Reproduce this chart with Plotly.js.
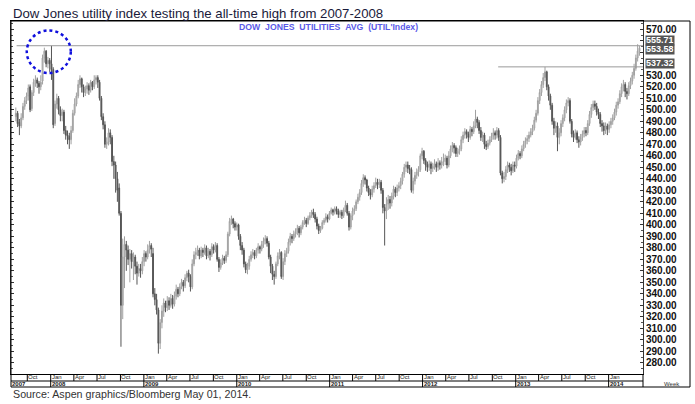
<!DOCTYPE html>
<html><head><meta charset="utf-8">
<script src="https://cdn.plot.ly/plotly-3.0.1.min.js"></script>
<style>html,body{margin:0;padding:0;background:#fff;}#chart{width:695px;height:404px;}</style>
</head><body><div id="chart"></div>
<script>
// Weekly bars, first week ending 2007-08-17
const firstWeek = [2007, 7, 17];
const opens = [
494,497,489,486,493,503,508,512,520,501,
515,524,526,523,520,525,545,551,540,543,
540,535,488,505,510,500,495,498,482,478,
477,474,482,497,505,512,522,527,520,515,
518,521,517,524,520,526,528,524,510,494,
487,470,472,480,476,455,452,440,432,410,
330,372,383,378,370,375,368,372,364,358,
362,360,368,375,372,378,382,375,340,335,
326,297,315,325,332,328,334,330,336,331,
338,344,340,346,350,347,354,358,355,346,
366,374,376,378,373,378,376,380,373,377,
374,381,378,382,370,363,367,371,369,374,
392,403,405,401,398,400,390,382,378,366,
361,364,370,374,376,373,378,381,379,383,
386,388,384,372,364,357,355,366,373,376,
355,368,375,377,385,390,388,392,394,397,
393,398,402,404,401,406,408,411,409,405,
399,395,397,402,404,407,405,410,413,411,
414,412,409,411,408,413,417,410,398,408,
412,414,420,424,428,436,441,439,432,428,
426,431,434,437,435,437,430,415,412,418,
422,419,425,431,428,432,434,438,444,450,
452,449,448,430,438,443,446,448,460,464,
456,452,450,453,449,451,453,450,454,452,
455,455,458,452,460,466,469,467,462,464,
466,474,478,481,479,476,483,481,486,492,
489,482,476,478,470,468,471,474,477,480,
478,482,476,445,440,442,448,452,450,447,
452,451,458,462,460,466,470,473,475,478,
481,484,491,497,508,515,522,528,533,520,
512,504,490,484,486,476,480,488,493,500,
506,508,490,479,476,480,474,472,476,479,
482,480,488,496,502,505,503,498,496,488,
486,482,486,483,487,490,493,498,504,507,
514,520,522,516,514,521,525,530,536,545,
551];
const highs = [
502,499,492,497,506,511,515,522,522,517,
527,530,528,525,530,548,554,552,546,545,
555.71,537,508,514,512,503,501,500,486,482,
480,486,500,510,515,526,530,528,522,521,
524,523,526,525,530,530,530,526,512,497,
490,476,484,483,478,460,455,446,436,412,
388,390,386,382,379,378,376,374,368,366,
366,372,378,377,383,386,384,380,345,340,
328,318,330,336,334,338,337,340,339,342,
348,346,349,353,352,357,360,361,357,370,
377,380,382,380,381,380,383,382,380,379,
384,383,385,384,372,370,374,373,377,394,
406,408,406,403,402,401,392,385,380,368,
367,373,377,379,378,380,384,382,386,389,
391,390,386,374,366,360,368,376,379,377,
371,378,380,388,393,392,395,397,400,399,
400,404,407,406,408,411,413,414,411,407,
401,399,404,406,410,409,412,415,414,416,
416,414,413,413,415,421,419,412,410,415,
417,422,427,431,439,444,443,440,434,431,
434,437,441,440,440,439,432,418,424,426,
425,428,434,433,435,437,441,446,453,455,
455,452,450,441,446,449,451,462,467,465,
458,455,456,455,454,457,455,458,456,459,
462,461,460,464,469,472,471,469,467,469,
477,481,484,483,481,486,485,490,500,494,
491,485,481,480,473,474,477,480,484,482,
485,484,478,447,446,451,455,454,453,455,
455,461,465,464,469,473,476,478,481,484,
487,494,500,511,518,525,532,537.32,534,522,
514,506,493,490,489,484,491,496,503,509,
511,510,492,482,483,482,477,479,482,485,
485,491,499,505,508,508,506,501,498,491,
489,489,488,490,493,496,501,507,510,517,
523,526,524,519,524,528,533,540,548,557,
555.5];
const lows = [
490,485,478,484,491,500,505,508,498,499,
512,520,519,514,517,522,541,537,536,533,
526,484,486,501,496,490,490,479,474,470,
466,470,480,495,503,510,519,515,511,512,
514,513,515,517,518,522,519,508,491,483,
467,466,469,470,451,440,428,420,408,294,
318,345,360,365,350,362,352,357,348,355,
354,357,364,368,370,375,372,337,330,322,
288,292,310,320,324,325,326,328,327,329,
335,337,338,344,342,345,351,350,342,344,
364,370,373,370,371,372,374,370,371,369,
372,375,376,368,359,361,365,366,367,372,
390,400,397,395,395,387,378,374,363,358,
357,361,368,371,370,371,375,375,377,380,
383,381,370,358,352,348,353,364,370,353,
352,365,372,375,382,384,386,389,391,389,
391,396,400,398,400,404,406,406,402,396,
392,393,396,400,402,402,404,409,408,409,
409,406,406,405,406,411,408,395,396,404,
409,412,418,421,426,433,435,429,425,422,
424,428,432,431,432,427,410,382,405,413,
414,416,422,424,425,429,431,435,441,446,
445,444,428,427,435,440,442,446,457,453,
447,446,447,444,446,448,446,447,448,449,
451,452,449,450,458,463,462,459,459,461,
464,471,475,475,472,474,477,479,484,484,
479,473,472,466,465,466,469,472,474,474,
475,473,443,436,437,439,445,446,443,445,
446,449,456,457,458,464,467,470,472,476,
478,482,489,495,505,512,519,525,517,508,
500,487,478,480,464,470,477,485,490,497,
503,488,476,472,474,471,467,469,473,476,
477,478,486,493,499,500,495,492,485,481,
478,479,478,480,484,487,491,495,501,505,
511,516,511,509,512,518,522,527,534,542,
547];
const closes = [
497,488,486,493,503,508,512,519,500,515,
524,526,523,520,524,545,551,540,543,540,
535,487,505,510,500,495,498,482,478,477,
474,482,497,505,512,522,527,520,515,518,
521,517,524,520,526,528,524,510,494,487,
470,472,480,476,455,452,440,430,410,330,
372,383,378,370,375,368,372,364,358,362,
360,368,375,372,378,382,379,340,335,326,
297,315,325,332,328,334,330,336,331,338,
344,340,346,350,347,354,358,355,346,366,
374,376,378,373,378,376,380,373,377,374,
381,378,382,370,363,367,371,369,374,392,
403,405,401,398,400,390,382,378,366,361,
364,370,374,376,373,378,381,379,383,386,
388,384,372,364,357,355,366,373,376,355,
368,375,377,385,390,388,392,394,397,393,
398,402,404,401,406,408,411,409,405,399,
395,397,402,404,407,405,410,413,411,414,
412,409,411,408,413,417,410,398,408,412,
414,420,424,428,436,441,439,432,428,426,
431,434,437,435,437,430,415,412,418,422,
419,425,431,428,432,434,438,444,450,452,
449,448,430,438,443,446,448,460,464,456,
452,450,453,449,451,453,450,454,452,455,
455,458,452,460,466,469,467,462,464,466,
474,478,481,479,476,483,481,486,492,489,
482,476,478,470,468,471,474,477,480,478,
482,476,445,440,442,448,452,450,447,452,
451,458,462,460,466,470,473,475,478,481,
484,491,497,508,515,522,528,533,520,512,
504,490,484,486,476,480,488,493,500,506,
508,490,479,476,480,474,472,476,479,482,
480,488,496,502,505,503,498,496,488,486,
482,486,483,487,490,493,498,504,507,514,
520,522,516,514,521,525,530,536,545,551,
553.58];

const quarterDates = ['2007-10-01',
 '2008-01-01','2008-04-01','2008-07-01','2008-10-01',
 '2009-01-01','2009-04-01','2009-07-01','2009-10-01',
 '2010-01-01','2010-04-01','2010-07-01','2010-10-01',
 '2011-01-01','2011-04-01','2011-07-01','2011-10-01',
 '2012-01-01','2012-04-01','2012-07-01','2012-10-01',
 '2013-01-01','2013-04-01','2013-07-01','2013-10-01',
 '2014-01-01'];
const quarterLabels = ['Oct',
 'Jan','Apr','Jul','Oct','Jan','Apr','Jul','Oct','Jan','Apr','Jul','Oct',
 'Jan','Apr','Jul','Oct','Jan','Apr','Jul','Oct','Jan','Apr','Jul','Oct','Jan'];
const yearDates = ['2007-07-29','2008-01-01','2009-01-01','2010-01-01','2011-01-01','2012-01-01','2013-01-01','2014-01-01'];
const yearLabels = ['2007','2008','2009','2010','2011','2012','2013','2014'];
const xRange = ['2007-07-29','2014-05-16'];
const yRange = [270.3, 577.2];
const yTickVals = [280,290,300,310,320,330,340,350,360,370,380,390,400,410,420,430,440,450,460,470,480,490,500,510,520,530,540,550,560,570];
const yTickText = ['280.00','290.00','300.00','310.00','320.00','330.00','340.00','350.00','360.00','370.00','380.00','390.00','400.00','410.00','420.00','430.00','440.00','450.00','460.00','470.00','480.00','490.00','500.00','510.00','520.00','530.00','','','','570.00'];
const levelLabels = [555.71, 553.58, 537.32];
const levelShift = [5.5, -1.5, 3];

const dates = closes.map((_, i) => {
  const d = new Date(Date.UTC(firstWeek[0], firstWeek[1], firstWeek[2]));
  d.setUTCDate(d.getUTCDate() + 7 * i);
  return d.toISOString().slice(0, 10);
});

const trace = {
  type: 'candlestick', x: dates, open: opens, high: highs, low: lows, close: closes,
  increasing: {line: {color: '#a0a0a0', width: 1}, fillcolor: '#d6d6d6'},
  decreasing: {line: {color: '#555555', width: 1}, fillcolor: '#555555'},
  hoverinfo: 'skip', showlegend: false
};

const F = 'Liberation Sans, Arial, sans-serif';
const rowY1 = -7 / 353, rowY2 = -13 / 353, rightEdge = (690 - 11) / 632;

const shapes = [
  {type: 'rect', xref: 'paper', yref: 'paper', x0: 0, x1: rightEdge, y0: rowY2, y1: 1, line: {color: '#000', width: 1}},
  {type: 'line', xref: 'paper', yref: 'paper', x0: 0, x1: 1, y0: rowY1, y1: rowY1, line: {color: '#000', width: 1}},
  {type: 'line', xref: 'paper', yref: 'paper', x0: 1, x1: 1, y0: rowY2, y1: 0, line: {color: '#000', width: 1}},
  {type: 'line', xref: 'x', yref: 'y', x0: '2007-08-20', x1: xRange[1], y0: levelLabels[0], y1: levelLabels[0], line: {color: '#9a9a9a', width: 1}},
  {type: 'line', xref: 'x', yref: 'y', x0: '2012-10-24', x1: xRange[1], y0: levelLabels[2], y1: levelLabels[2], line: {color: '#9a9a9a', width: 1}},
  {type: 'circle', xref: 'x', yref: 'y', x0: '2007-09-29', x1: '2008-03-20', y0: 532, y1: 569, line: {color: '#1010dd', width: 2.5, dash: 'dot'}}
];
quarterDates.forEach(d => shapes.push({type: 'line', xref: 'x', yref: 'paper', x0: d, x1: d, y0: 0, y1: rowY1, line: {color: '#000', width: 1}}));
yearDates.slice(1).forEach(d => shapes.push({type: 'line', xref: 'x', yref: 'paper', x0: d, x1: d, y0: rowY1, y1: rowY2, line: {color: '#000', width: 1}}));

const annotations = [
  {xref: 'paper', yref: 'paper', x: 0, y: 1 + 8 / 353, xanchor: 'left', yanchor: 'middle', showarrow: false,
   text: 'Dow Jones utility index testing the all-time high from 2007-2008', font: {family: F, size: 13.2, color: '#1a1a3a'}},
  {xref: 'paper', yref: 'paper', x: 0.5016, y: 1 - 5.7 / 353, xanchor: 'center', yanchor: 'middle', showarrow: false,
   text: 'DOW\u00a0\u00a0JONES\u00a0\u00a0UTILITIES\u00a0\u00a0AVG\u00a0\u00a0(UTIL\'Index)', font: {family: F, size: 8.7, color: '#5a5ae8', weight: 'bold'}},
  {xref: 'paper', yref: 'paper', x: 0, y: -20 / 353, xanchor: 'left', yanchor: 'middle', showarrow: false,
   text: 'Source: Aspen graphics/Bloomberg May 01, 2014.', font: {family: F, size: 10.7, color: '#333'}},
  {xref: 'paper', yref: 'paper', x: (672 - 11) / 632, y: -9.5 / 353, xanchor: 'center', yanchor: 'middle', showarrow: false,
   text: 'Week', font: {family: F, size: 6, color: '#333'}}
];
quarterDates.forEach((d, i) => annotations.push({xref: 'x', yref: 'paper', x: d, y: -3.5 / 353, xanchor: 'left', yanchor: 'middle',
  showarrow: false, text: quarterLabels[i], font: {family: F, size: 6, color: '#222'}, borderpad: 0}));
yearDates.forEach((d, i) => annotations.push({xref: 'x', yref: 'paper', x: d, y: -10 / 353, xanchor: 'left', yanchor: 'middle',
  showarrow: false, text: yearLabels[i], font: {family: F, size: 6, color: '#222', weight: 'bold'}, borderpad: 0}));
levelLabels.forEach((v, i) => annotations.push({xref: 'paper', yref: 'y', x: 1, y: v, xanchor: 'left', xshift: 2, yshift: levelShift[i],
  yanchor: 'middle', showarrow: false, text: v.toFixed(2), bgcolor: '#555', borderpad: 0, height: 8.5,
  font: {family: F, size: 9, color: '#fff', weight: 'bold'}}));

const layout = {
  width: 695, height: 404,
  margin: {l: 11, r: 52, t: 21, b: 30},
  paper_bgcolor: '#fff', plot_bgcolor: '#fff',
  showlegend: false,
  xaxis: {type: 'date', range: xRange, showticklabels: false, ticks: '', showgrid: false, zeroline: false,
    showline: true, mirror: true, linecolor: '#000', linewidth: 1, rangeslider: {visible: false}, fixedrange: true},
  yaxis: {side: 'right', range: yRange, tickmode: 'array', tickvals: yTickVals, ticktext: yTickText, showgrid: false, zeroline: false,
    showline: true, mirror: 'ticks', linecolor: '#333', linewidth: 1, ticks: 'inside', ticklen: 3, tickcolor: '#333',
    minor: {dtick: 5, ticks: 'inside', ticklen: 2, tickcolor: '#555'},
    tickfont: {family: F, size: 10, color: '#111', weight: 'bold'}, fixedrange: true},
  shapes: shapes,
  annotations: annotations
};

Plotly.newPlot('chart', [trace], layout, {staticPlot: true, displayModeBar: false});
</script>
</body></html>
